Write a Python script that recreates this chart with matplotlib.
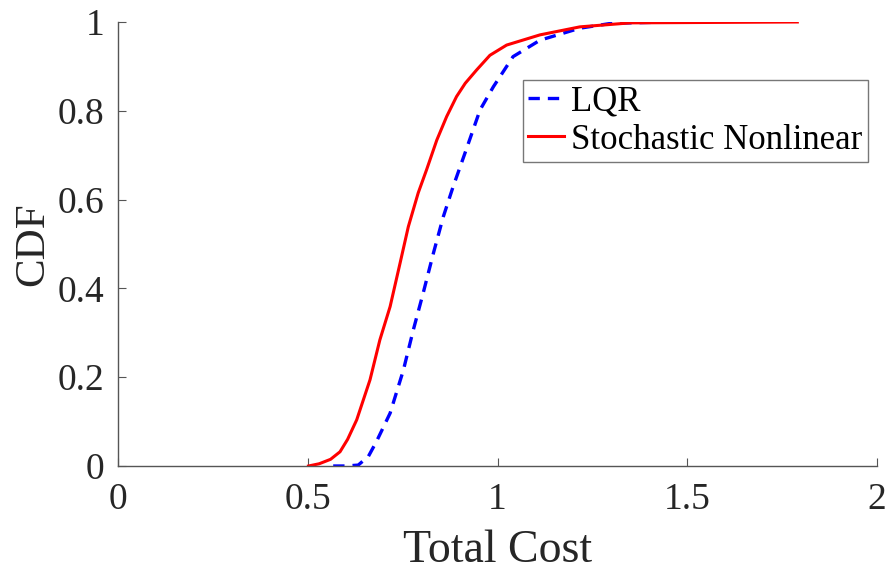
import numpy as np
import matplotlib
matplotlib.use("Agg")
import matplotlib.pyplot as plt

plt.rcParams['font.family'] = ['Liberation Serif', 'DejaVu Serif']

# curves (x = total cost, y = CDF)
lqr_x = [0.567, 0.600, 0.633, 0.660, 0.681, 0.717, 0.752, 0.778, 0.804, 0.831, 0.857, 0.883,
         0.914, 0.954, 0.989, 1.041, 1.112, 1.217, 1.30, 1.45]
lqr_y = [0.0, 0.0, 0.002, 0.022, 0.055, 0.119, 0.216, 0.306, 0.389, 0.479, 0.561, 0.629,
         0.704, 0.802, 0.854, 0.922, 0.959, 0.986, 0.997, 1.0]

sn_x = [0.502, 0.530, 0.560, 0.585, 0.605, 0.629, 0.664, 0.690, 0.717, 0.743, 0.765, 0.791,
        0.813, 0.840, 0.866, 0.892, 0.915, 0.945, 0.980, 1.024, 1.112, 1.217, 1.35, 1.79]
sn_y = [0.0, 0.005, 0.015, 0.032, 0.060, 0.104, 0.194, 0.284, 0.359, 0.456, 0.539, 0.615,
        0.667, 0.734, 0.787, 0.832, 0.862, 0.892, 0.925, 0.948, 0.971, 0.989, 0.998, 1.0]

fig = plt.figure(figsize=(8.9, 5.71), dpi=100)
ax = fig.add_axes([0.1326, 0.1839, 0.8528, 0.7776])

ax.plot(lqr_x, lqr_y, color='#0000ff', lw=2.4, ls=(0, (3.4, 2.4)), label='LQR')
ax.plot(sn_x, sn_y, color='#ff0000', lw=2.2, label='Stochastic Nonlinear')

ax.set_xlim(0, 2)
ax.set_ylim(0, 1)
ax.set_xticks([0, 0.5, 1, 1.5, 2])
ax.set_xticklabels(['0', '0.5', '1', '1.5', '2'])
ax.set_yticks([0, 0.2, 0.4, 0.6, 0.8, 1])
ax.set_yticklabels(['0', '0.2', '0.4', '0.6', '0.8', '1'])

for s in ['top', 'right']:
    ax.spines[s].set_visible(False)
for s in ['left', 'bottom']:
    ax.spines[s].set_color('#555555')
    ax.spines[s].set_linewidth(1.0)
ax.tick_params(direction='in', length=6, width=0.8, color='#555555',
               labelsize=27, labelcolor='#262626')
ax.tick_params(axis='x', pad=12)
ax.tick_params(axis='y', pad=10)

ax.set_xlabel('Total Cost', fontsize=33, color='#262626', labelpad=9)
ax.set_ylabel('CDF', fontsize=31, color='#262626', labelpad=4)

leg = ax.legend(loc='upper right', bbox_to_anchor=(0.988, 0.869), fontsize=25,
                frameon=True, fancybox=False, edgecolor='#555555',
                handlelength=1.05, handletextpad=0.2, borderpad=0.15,
                labelspacing=0.15, borderaxespad=0)
leg.get_frame().set_linewidth(1.0)

fig.savefig('out.png', dpi=100)
